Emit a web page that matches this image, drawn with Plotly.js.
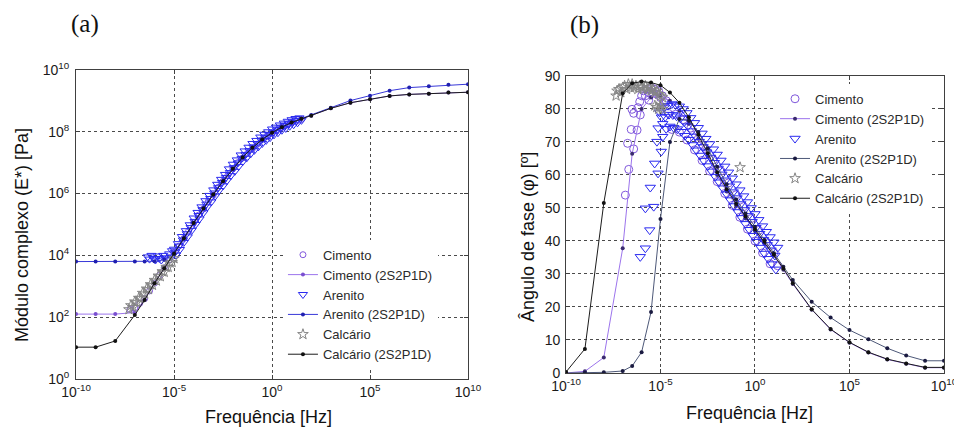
<!DOCTYPE html>
<html><head><meta charset="utf-8">
<script src="https://cdn.plot.ly/plotly-3.0.1.min.js"></script>
<style>html,body{margin:0;padding:0;background:#fff}#chart{width:954px;height:432px}</style>
</head><body><div id="chart"></div>
<script>
// ---------- tick labels ----------
const freqTickExp = [-10, -5, 0, 5, 10];
const freqTickText = ['10<sup>-10</sup>', '10<sup>-5</sup>', '10<sup>0</sup>', '10<sup>5</sup>', '10<sup>10</sup>'];
const modTickExp = [0, 2, 4, 6, 8, 10];
const modTickText = ['10<sup>0</sup>', '10<sup>2</sup>', '10<sup>4</sup>', '10<sup>6</sup>', '10<sup>8</sup>', '10<sup>10</sup>'];
const phaseTicks = [0, 10, 20, 30, 40, 50, 60, 70, 80, 90];

// ---------- 2S2P1D model curves (log10 of frequency in Hz) ----------
const modelLogHz = [-10,-9,-8,-7,-6.5,-6,-5.5,-5,-4.5,-4,-3.5,-3,-2.5,-2,-1.5,-1,-0.5,0,0.5,1,1.5,2,3,4,5,6,7,8,9,10];
// (a) log10 of |E*| in Pa
const cimentoModelLogPa  = [2.1,2.1,2.1,2.15,2.58,3.10,3.58,4.05,4.55,5.05,5.52,5.97,6.40,6.80,7.17,7.48,7.75,7.97,8.15,8.30,8.42,8.52,8.76,8.94,9.05,9.16,9.21,9.23,9.27,9.28];
const arenitoModelLogPa  = [3.8,3.8,3.8,3.8,3.8,3.81,3.86,4.08,4.57,5.06,5.53,5.98,6.41,6.81,7.18,7.49,7.76,7.98,8.16,8.31,8.43,8.54,8.78,9.01,9.17,9.33,9.43,9.47,9.52,9.54];
const calcarioModelLogPa = [1.03,1.03,1.23,2.07,2.56,3.10,3.58,4.05,4.55,5.05,5.52,5.97,6.40,6.80,7.17,7.48,7.75,7.97,8.15,8.30,8.42,8.52,8.76,8.94,9.05,9.16,9.21,9.23,9.27,9.28];
// (b) phase angle in degrees
const cimentoModelDeg  = [0.0,0.5,4.7,37.8,66.4,80.0,83.5,84.0,82.5,79.5,75.5,71.0,65.6,60.0,55.0,50.7,46.8,43.0,39.3,35.5,31.3,27.0,19.2,13.2,9.2,6.2,4.1,2.8,1.6,1.6];
const arenitoModelDeg  = [0.0,0.1,0.2,0.6,2.1,6.3,18.5,46.7,70.0,77.0,76.5,73.0,68.0,62.5,57.2,52.6,48.3,44.3,40.3,36.3,32.2,28.2,21.6,16.8,13.0,10.2,7.5,5.3,3.7,3.7];
const calcarioModelDeg = [0.3,7.3,51.5,84.8,87.8,88.3,88.0,87.2,85.0,81.9,77.5,72.2,66.6,60.8,55.7,51.3,47.4,43.5,39.8,35.9,31.7,27.2,19.3,13.3,9.3,6.3,4.2,2.9,1.7,1.7];

// ---------- measured data (a): log10 Hz, log10 Pa ----------
const cimentoLogHzA = [-7.25,-7.0,-6.75,-6.5,-6.25,-6.0,-5.75,-5.5,-5.25,-5.0,-4.75,-4.5,-4.25,-4.0,-3.75,-3.5,-3.25,-3.0,-2.75,-2.5,-2.25,-2.0,-1.75,-1.5,-1.25,-1.0,-0.75,-0.5,-0.25,0.0,0.25,0.5,0.75,1.0,1.25,1.5];
const cimentoLogPaA = [2.25,2.3,2.45,2.6,2.85,3.1,3.35,3.6,3.85,4.1,4.3,4.55,4.8,5.05,5.3,5.5,5.75,5.95,6.2,6.4,6.6,6.8,7.0,7.15,7.3,7.45,7.6,7.75,7.85,7.95,8.05,8.15,8.22,8.3,8.35,8.4];

const arenitoLogHzA = [
 -6.35,-6.25,-6.15,-6.05,-5.95,-5.85,-5.75,-5.65,-5.55,-5.45,-5.35,-5.25,-5.15,-5.1,
 -5.0,-4.9,-4.8,-4.7,-4.6,-4.5,-4.4,-4.3,-4.2,-4.1,-4.0,-3.9,-3.8,-3.7,-3.6,-3.5,-3.4,-3.3,-3.2,-3.1,
 -3.0,-2.9,-2.8,-2.7,-2.6,-2.5,-2.4,-2.3,-2.2,-2.1,-2.0,-1.9,-1.8,-1.7,-1.6,-1.5,-1.4,-1.3,-1.2,-1.1,
 -1.0,-0.9,-0.8,-0.7,-0.6,-0.5,-0.4,-0.3,-0.2,-0.1,0.0,0.1,0.2,0.3,0.4,0.5,0.6,0.7,0.8,0.9,1.0,1.1,1.2,1.3,1.4,1.5,
 -4.95,-4.75,-4.55,-4.35,-4.15,-3.95,-3.75,-3.55,-3.35,-3.15,-2.95,-2.75,-2.55,-2.35,-2.15,-1.95,
 -1.75,-1.55,-1.35,-1.15,-0.95,-0.75,-0.55,-0.35,-0.15,0.05,0.25,0.45,0.65,0.85,1.05,1.25];
const arenitoLogPaA = [
 3.95,3.88,4.0,3.9,3.85,3.98,3.9,3.85,4.0,3.92,3.88,4.05,3.95,4.15,
 4.20,4.01,4.38,4.19,4.61,4.42,4.80,4.60,4.99,4.81,5.21,5.00,5.39,5.18,5.57,5.38,5.77,5.57,5.94,5.73,
 6.12,5.92,6.30,6.10,6.46,6.25,6.62,6.42,6.80,6.58,6.95,6.72,7.09,6.88,7.25,7.03,7.38,7.15,7.50,7.28,
 7.62,7.40,7.72,7.51,7.83,7.62,7.92,7.72,8.00,7.81,8.09,7.90,8.15,7.97,8.22,8.05,8.28,8.11,8.34,8.18,8.39,8.23,8.43,8.29,8.45,8.37,
 4.10,4.30,4.50,4.70,4.90,5.10,5.29,5.48,5.66,5.84,6.02,6.19,6.36,6.52,6.68,6.84,
 6.99,7.14,7.26,7.39,7.51,7.62,7.73,7.82,7.91,7.99,8.06,8.13,8.20,8.26,8.31,8.36];

const calcarioLogHzA = [-7.3,-7.2,-7.1,-7.0,-6.9,-6.8,-6.7,-6.6,-6.5,-6.4,-6.3,-6.2,-6.1,-6.0,-5.9,-5.8,-5.7,-5.6,-5.5,-5.4,-5.3,-5.2,-5.1,-5.0];
const calcarioLogPaA = [2.25,2.38,2.32,2.50,2.48,2.62,2.62,2.78,2.76,2.92,2.90,3.06,3.04,3.20,3.18,3.34,3.32,3.48,3.46,3.62,3.62,3.76,3.78,3.90];

// ---------- measured data (b): log10 Hz, degrees ----------
const cimentoLogHzB = [
 -6.86,-6.68,-6.74,-6.42,-6.55,-6.24,-6.42,-6.07,-6.51,-6.19,-6.1,-5.62,
 -6.0,-5.9,-5.8,-5.7,-5.6,-5.5,-5.4,-5.3,-5.2,-5.1,-5.0,-4.9,-4.8,-4.7,
 -4.6,-4.4,-4.2,-4.0,-3.8,-3.6,-3.4,-3.2,-3.0,-2.8,-2.6,-2.4,-2.2,-2.0,-1.8,-1.6,-1.4,-1.2,-1.0,
 -0.8,-0.6,-0.4,-0.2,0.0,0.2,0.4,0.6,0.8,1.0,1.2];
const cimentoDegB = [
 53.9,61.7,69.6,67.9,73.8,73.6,78.7,78.2,79.9,80.4,82.2,82.7,
 84.0,85.5,84.0,86.0,85.0,86.5,85.0,86.0,84.5,85.5,83.5,84.0,82.0,82.5,
 78.7,73.8,78.4,73.0,76.8,70.6,74.2,67.6,71.0,64.4,67.8,61.2,64.6,58.0,61.2,54.4,57.6,50.8,54.0,
 47.2,50.4,43.6,46.8,40.0,43.2,36.4,39.7,33.1,36.5,32.5];

const arenitoLogHzB = [
 -6.07,-5.8,-5.57,-5.8,-5.36,-5.54,-5.31,-5.13,-5.19,-4.96,-5.13,-4.88,-4.88,-4.95,-5.05,
 -4.8,-4.6,-4.4,-4.2,-4.0,-3.8,-3.6,-3.4,-3.2,-3.0,-2.8,-2.6,-2.4,-2.2,-2.0,-1.8,-1.6,-1.4,-1.2,-1.0,
 -0.8,-0.6,-0.4,-0.2,0.0,0.2,0.4,0.6,0.8,1.0,1.2,
 -4.7,-4.5,-4.3,-4.1,-3.9,-3.7,-3.5,-3.3,-3.1,-2.9,-2.7,-2.5,-2.3,-2.1,-1.9,-1.7,-1.5,-1.3,-1.1,
 -0.9,-0.7,-0.5,-0.3,-0.1,0.1,0.3,0.5,0.7,0.9,1.1,
 -4.75,-4.55,-4.35,-4.15,-3.95,-3.75,-3.55,-3.35,-3.15,-2.95,-2.75,-2.55,-2.35,-2.15,-1.95,
 -1.75,-1.55,-1.35,-1.15,-0.95,-0.75,-0.55,-0.35,-0.15,0.05,0.25,0.45,0.65,0.85,1.05];
const arenitoDegB = [
 35.2,37.8,43.3,49.9,50.4,56.2,63.5,60.5,70.1,67.1,74.2,71.6,75.5,77.5,79.0,
 80.5,81.0,81.5,81.2,80.8,80.0,78.8,77.3,75.8,74.3,72.6,71.0,69.4,67.8,66.2,64.4,62.6,60.8,59.0,57.2,
 55.4,53.6,51.8,50.0,48.2,46.4,44.5,42.8,41.2,39.6,38.0,
 74.0,74.7,74.3,73.9,73.1,71.9,70.7,69.1,67.5,65.9,64.3,62.7,61.1,59.5,57.8,56.0,54.2,52.4,50.6,
 48.8,47.0,45.2,43.4,41.6,39.8,38.0,36.2,34.6,33.0,31.4,
 77.6,78.3,78.2,77.8,77.2,76.0,74.8,73.3,71.7,70.1,68.5,66.9,65.3,63.7,62.0,
 60.2,58.4,56.6,54.8,53.0,51.2,49.4,47.6,45.8,44.0,42.2,40.4,38.8,37.2,35.6];

const calcarioLogHzB = [-7.35,-7.3,-7.2,-7.1,-7.0,-6.9,-6.8,-6.7,-6.6,-6.5,-6.4,-6.3,-6.2,-6.1,-6.0,-5.9,-5.8,-5.7,-5.6,-5.5,-5.4,-5.3,-5.2,-5.1,-5.0,-4.9,-5.3,-5.2,-5.1,-5.0,-4.9,-0.79];
const calcarioDegB = [84.0,85.5,86.0,85.0,86.5,87.0,86.0,87.5,86.5,87.5,86.5,87.0,86.0,87.0,86.5,86.0,87.0,86.0,86.5,85.5,86.0,85.0,85.5,84.5,84.0,83.5,81.0,80.5,80.0,81.0,80.0,62.3];

// ---------- build ----------
const p10 = a => a.map(v => Math.pow(10, v));
const FONT = 'Liberation Sans, Arial, sans-serif';

const colCim = '#8058dc', colCimLine = '#9c74ec';
const colAre = '#2a2af0', colAreLineA = '#3838d8', colAreLineB = '#4d5878';
const colCal = '#858585', colCalLine = '#1c1c1c';

function dataTrace(name, x, y, sym, col, size, xa, ya, lg) {
  return {type:'scatter', mode:'markers', name, x, y, xaxis:xa, yaxis:ya, legend:lg,
    marker:{symbol:sym, size, color:col, line:{color:col, width:1}}};
}
function modelTrace(name, x, y, col, dotCol, xa, ya, lg) {
  return {type:'scatter', mode:'lines+markers', name, x, y, xaxis:xa, yaxis:ya, legend:lg,
    line:{color:col, width:1}, marker:{symbol:'circle', size:4, color:dotCol}};
}

const fx = p10(modelLogHz);
const traces = [
  dataTrace('Cimento', p10(cimentoLogHzA), p10(cimentoLogPaA), 'circle-open', colCim, 6, 'x', 'y', 'legend'),
  modelTrace('Cimento (2S2P1D)', fx, p10(cimentoModelLogPa), colCimLine, '#7a4fd0', 'x', 'y', 'legend'),
  dataTrace('Arenito', p10(arenitoLogHzA), p10(arenitoLogPaA), 'triangle-down-open', colAre, 8, 'x', 'y', 'legend'),
  modelTrace('Arenito (2S2P1D)', fx, p10(arenitoModelLogPa), colAreLineA, '#2020b0', 'x', 'y', 'legend'),
  dataTrace('Calcário', p10(calcarioLogHzA), p10(calcarioLogPaA), 'star-open', colCal, 8, 'x', 'y', 'legend'),
  modelTrace('Calcário (2S2P1D)', fx, p10(calcarioModelLogPa), colCalLine, '#111', 'x', 'y', 'legend'),

  dataTrace('Cimento', p10(cimentoLogHzB), cimentoDegB, 'circle-open', colCim, 8, 'x2', 'y2', 'legend2'),
  modelTrace('Cimento (2S2P1D)', fx, cimentoModelDeg, colCimLine, '#3a2a70', 'x2', 'y2', 'legend2'),
  dataTrace('Arenito', p10(arenitoLogHzB), arenitoDegB, 'triangle-down-open', colAre, 9, 'x2', 'y2', 'legend2'),
  modelTrace('Arenito (2S2P1D)', fx, arenitoModelDeg, colAreLineB, '#1a1a40', 'x2', 'y2', 'legend2'),
  dataTrace('Calcário', p10(calcarioLogHzB), calcarioDegB, 'star-open', colCal, 8, 'x2', 'y2', 'legend2'),
  modelTrace('Calcário (2S2P1D)', fx, calcarioModelDeg, colCalLine, '#111', 'x2', 'y2', 'legend2')
];

const axCommon = {
  showline:true, linecolor:'#404040', linewidth:1, mirror:'ticks',
  ticks:'inside', ticklen:4, tickcolor:'#404040',
  showgrid:true, gridcolor:'#4a4a4a', griddash:'3px,3px', gridwidth:1,
  zeroline:false, automargin:false, ticklabeloverflow:'allow',
  tickfont:{family:FONT, size:14, color:'#1a1a1a'}
};

function ann(text, px, py, size, fam, angle) {
  return {text, xref:'paper', yref:'paper', x:px / 954, y:1 - py / 432, xanchor:'center', yanchor:'middle',
    showarrow:false, textangle:angle || 0, font:{family:fam, size, color:'#111'}};
}
const SERIF = 'Liberation Serif, Times New Roman, serif';

const layout = {
  width:954, height:432, margin:{l:0, r:0, t:0, b:0},
  paper_bgcolor:'#fff', plot_bgcolor:'#fff', showlegend:true,
  xaxis:Object.assign({}, axCommon, {domain:[0.0797,0.4906], type:'log', range:[-10,10], anchor:'y',
    tickmode:'array', tickvals:p10(freqTickExp), ticktext:freqTickText}),
  yaxis:Object.assign({}, axCommon, {domain:[0.1227,0.838], type:'log', range:[0,10], anchor:'x',
    tickmode:'array', tickvals:p10(modTickExp), ticktext:modTickText, ticklabelstandoff:3}),
  xaxis2:Object.assign({}, axCommon, {domain:[0.5933,0.9895], type:'log', range:[-10,10], anchor:'y2',
    tickmode:'array', tickvals:p10(freqTickExp), ticktext:freqTickText}),
  yaxis2:Object.assign({}, axCommon, {domain:[0.1366,0.8241], range:[0,90], anchor:'x2',
    tickmode:'array', tickvals:phaseTicks, ticklabelstandoff:2}),
  legend:{x:0.2966, y:0.445, xanchor:'left', yanchor:'top', bgcolor:'#fff', borderwidth:0,
    font:{family:FONT, size:13, color:'#2a2a2a'}, tracegroupgap:0},
  legend2:{x:0.8124, y:0.806, xanchor:'left', yanchor:'top', bgcolor:'#fff', borderwidth:0,
    font:{family:FONT, size:13, color:'#2a2a2a'}, tracegroupgap:0},
  annotations:[
    ann('(a)', 85, 24, 25, SERIF),
    ann('(b)', 584, 25, 25, SERIF),
    ann('Frequência [Hz]', 268, 417, 18, FONT),
    ann('Módulo complexo (E*) [Pa]', 22, 235, 18, FONT, -90),
    ann('Frequência [Hz]', 749, 413, 18, FONT),
    ann('Ângulo de fase (φ) [º]', 528, 237, 18, FONT, -90)
  ]
};

Plotly.newPlot('chart', traces, layout, {staticPlot:true, displayModeBar:false});
</script></body></html>
